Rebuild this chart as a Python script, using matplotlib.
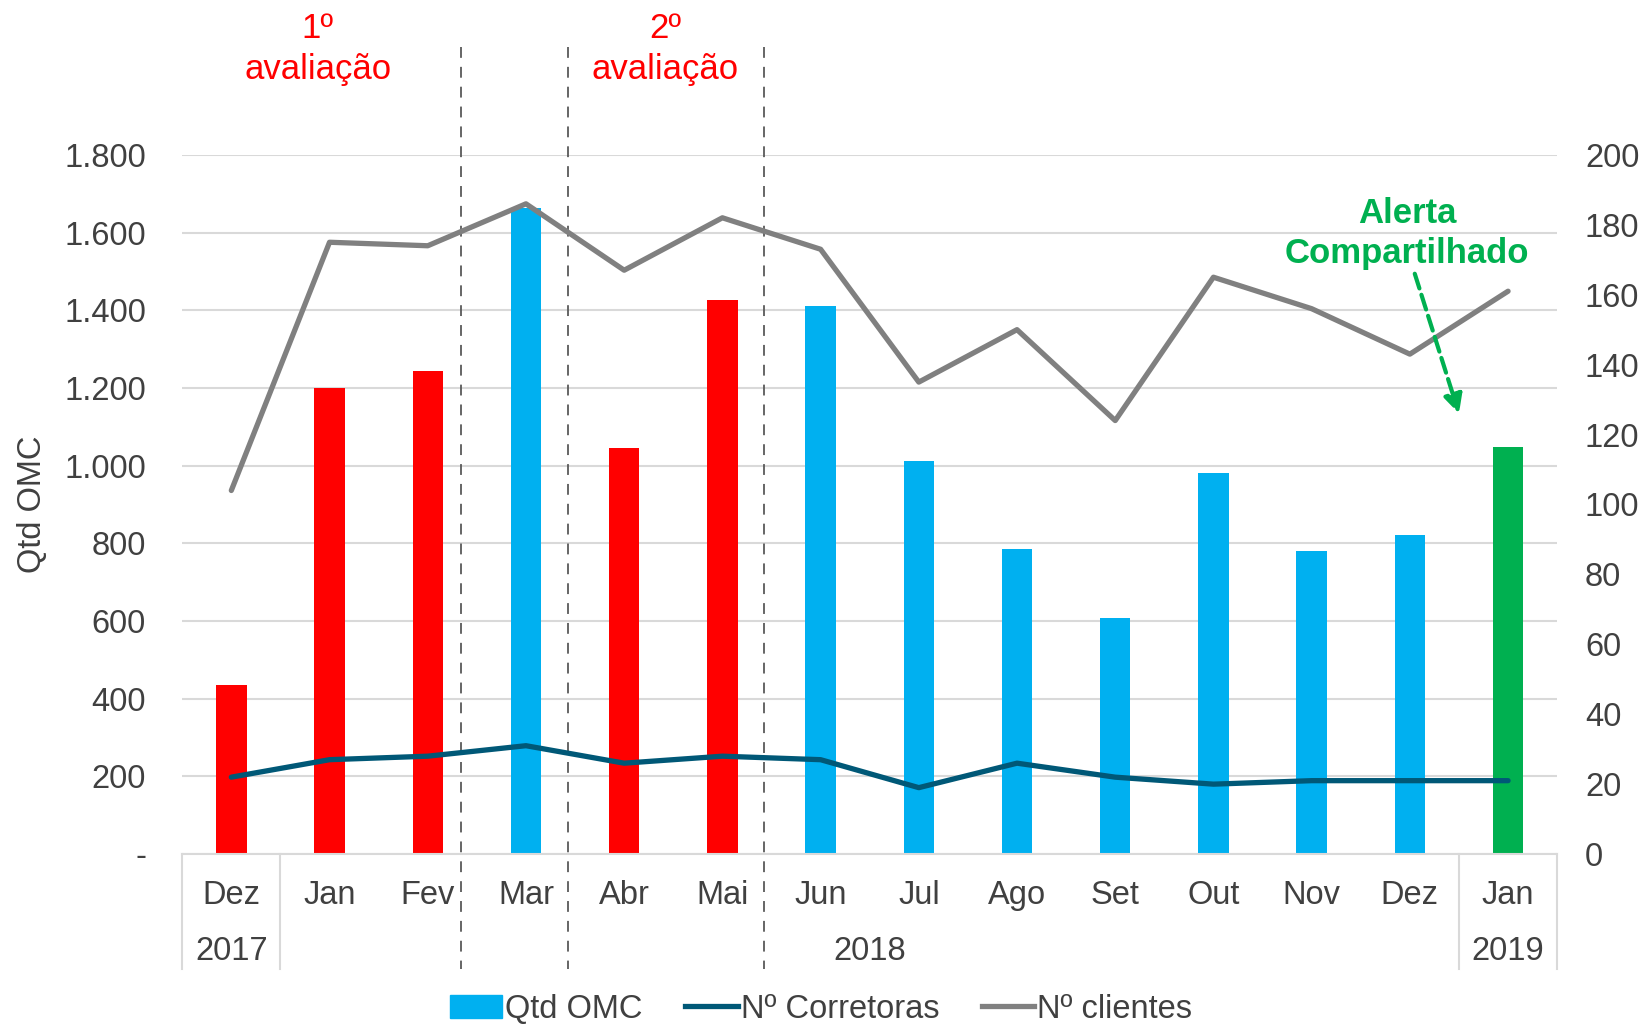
import matplotlib
matplotlib.use("Agg")
import matplotlib.pyplot as plt
import matplotlib.transforms as mtransforms
from matplotlib.patches import Patch
from matplotlib.lines import Line2D

plt.rcParams['font.family'] = ['Liberation Sans', 'DejaVu Sans']

months = ["Dez", "Jan", "Fev", "Mar", "Abr", "Mai", "Jun", "Jul", "Ago", "Set", "Out", "Nov", "Dez", "Jan"]
years = ["2017", "2018", "2019"]
year_spans = [(0, 0), (1, 12), (13, 13)]
qtd_omc = [434, 1201, 1244, 1662, 1046, 1426, 1412, 1011, 786, 607, 981, 781, 821, 1049]
bar_colors = ["#FF0000", "#FF0000", "#FF0000", "#00B0F0", "#FF0000", "#FF0000", "#00B0F0",
              "#00B0F0", "#00B0F0", "#00B0F0", "#00B0F0", "#00B0F0", "#00B0F0", "#00B050"]
corretoras = [22, 27, 28, 31, 26, 28, 27, 19, 26, 22, 20, 21, 21, 21]
clientes = [104, 175, 174, 186, 167, 182, 173, 135, 150, 124, 165, 156, 143, 161]
left_ticks = [0, 200, 400, 600, 800, 1000, 1200, 1400, 1600, 1800]
left_labels = ["-", "200", "400", "600", "800", "1.000", "1.200", "1.400", "1.600", "1.800"]
right_ticks = [0, 20, 40, 60, 80, 100, 120, 140, 160, 180, 200]

TXT = "#404040"
FS = 23.5
FA = 25

fig = plt.figure(figsize=(16.52, 10.31), dpi=100)
ax = fig.add_axes([0.1103, 0.1716, 0.8323, 0.6782])
ax2 = ax.twinx()

x = list(range(len(months)))
ax.bar(x, qtd_omc, width=0.31, color=bar_colors, zorder=2)
ax.set_ylim(0, 1800)
ax.set_xlim(-0.5, len(months) - 0.5)
ax.set_yticks(left_ticks)
ax.set_yticklabels(left_labels)
ax.grid(axis='y', color='#D9D9D9', lw=1.5, zorder=0)
ax.set_axisbelow(True)
ax.tick_params(axis='y', length=0, pad=26, labelsize=FS, labelcolor=TXT)
ax.set_xticks(x)
ax.set_xticklabels(months)
ax.tick_params(axis='x', length=0, pad=19, labelsize=FS, labelcolor=TXT)
for s in ['top', 'right', 'left']:
    ax.spines[s].set_visible(False)
ax.spines['bottom'].set_color('#D9D9D9')
ax.spines['bottom'].set_linewidth(1.5)
ax.set_ylabel("Qtd OMC", fontsize=FS, color=TXT, labelpad=12)

ax2.plot(x, corretoras, color="#005877", lw=3.8, solid_capstyle='round', zorder=3)
ax2.plot(x, clientes, color="#808080", lw=3.8, solid_capstyle='round', zorder=3)
ax2.set_ylim(0, 200)
ax2.set_yticks(right_ticks)
ax2.tick_params(axis='y', length=0, pad=20, labelsize=FS, labelcolor=TXT)
for s in ['top', 'right', 'left', 'bottom']:
    ax2.spines[s].set_visible(False)

trans = mtransforms.blended_transform_factory(ax.transData, ax.transAxes)

# multi-level category separators
for b in [-0.5, 0.5, 12.5, 13.5]:
    ax.plot([b, b], [0, -0.164], transform=trans, color='#D9D9D9', lw=1.5, clip_on=False)
for (a, b), yl in zip(year_spans, years):
    ax.text((a + b) / 2, -0.139, yl, transform=trans, ha='center', va='center',
            fontsize=FS, color=TXT)

# dashed evaluation separators
for xv in [2.34, 3.43, 5.42]:
    ax.plot([xv, xv], [1.154, -0.164], transform=trans, color='#595959', lw=1.3,
            ls=(0, (6, 5)), clip_on=False, zorder=1)

ax.text(0.88, 1.151, "1º\navaliação", transform=trans, ha='center', va='center',
        fontsize=FA, color='#FF0000', linespacing=1.3)
ax.text(4.42, 1.151, "2º\navaliação", transform=trans, ha='center', va='center',
        fontsize=FA, color='#FF0000', linespacing=1.3)

ax2.text(11.97, 177.5, "Alerta\nCompartilhado", ha='center', va='center', fontsize=FA,
         color='#00B050', fontweight='bold', linespacing=1.3)
ax2.annotate("", xy=(12.5, 126), xytext=(12.05, 166),
             arrowprops=dict(arrowstyle='-|>', color='#00B050', lw=3, ls='--',
                             mutation_scale=28, shrinkA=0, shrinkB=0))

handles = [Patch(color="#00B0F0"),
           Line2D([0], [0], color="#005877", lw=3.8),
           Line2D([0], [0], color="#808080", lw=3.8)]
fig.legend(handles, ["Qtd OMC", "Nº Corretoras", "Nº clientes"], loc='center',
           bbox_to_anchor=(0.497, 0.021), ncol=3, frameon=False, fontsize=FS,
           handlelength=1.6, handletextpad=0.1, columnspacing=1.3, labelcolor=TXT)

fig.savefig("out.png", dpi=100)
